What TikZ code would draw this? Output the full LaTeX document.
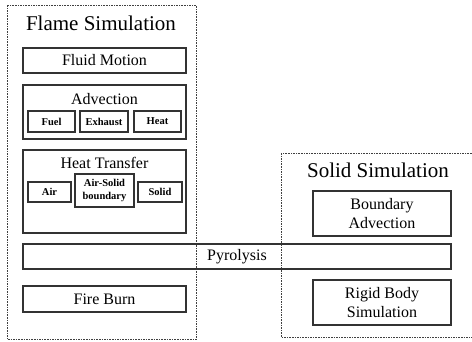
\documentclass[tikz,border=0pt]{standalone}
\usepackage{fontspec}
\setmainfont{Liberation Serif}
\begin{document}
\begin{tikzpicture}[x=1pt,y=-1pt,
  box/.style={draw=black!80,line width=1.1pt,inner sep=0pt,align=center},
  grp/.style={draw=black!75,line width=0.8pt,dash pattern=on 1.6pt off 1pt},
  ttl/.style={font=\fontsize{21}{24}\selectfont,anchor=base,inner sep=0pt},
  lbl/.style={font=\fontsize{16}{19}\selectfont},
  sub/.style={font=\bfseries\fontsize{10.5}{12.5}\selectfont},
]
\useasboundingbox (0,0) rectangle (472,341);
% group frames
\draw[grp] (7,5) rectangle (196,339.5);
\draw[grp] (281,153) rectangle (490,337);
\node[ttl] (flame) at (101,30) {Flame Simulation};
\node[ttl] (solidsim) at (378,177) {Solid Simulation};
% flame boxes
\node[box,lbl,minimum width=163pt,minimum height=25pt] (fluid) at (104.5,60.5) {Fluid Motion};
\node[box,minimum width=163pt,minimum height=54pt] (adv) at (104.5,112) {};
\node[lbl,anchor=base,inner sep=0pt] (advt) at (104.5,104) {Advection};
\node[box,sub,minimum width=47pt,minimum height=21pt] (fuel) at (51.5,121.5) {Fuel};
\node[box,sub,minimum width=48pt,minimum height=21pt] (exh) at (104,121.5) {Exhaust};
\node[box,sub,minimum width=47pt,minimum height=21pt] (heat) at (157.5,121.5) {Heat};
\node[box,minimum width=163pt,minimum height=83pt] (ht) at (104.5,191.5) {};
\node[lbl,anchor=base,inner sep=0pt] (htt) at (104.5,168) {Heat Transfer};
\node[box,sub,minimum width=43pt,minimum height=20pt] (air) at (49.5,192) {Air};
\node[box,sub,minimum width=59pt,minimum height=33pt,font=\bfseries\fontsize{10.5}{12.5}\selectfont] (airsolid) at (104.5,190.5) {Air-Solid\\boundary};
\node[box,sub,minimum width=44pt,minimum height=20pt] (solid) at (160,192) {Solid};
\node[box,lbl,minimum width=428pt,minimum height=25pt] (pyro) at (237,256.5) {Pyrolysis};
\node[box,lbl,minimum width=163pt,minimum height=26pt] (fire) at (104.5,299) {Fire Burn};
% solid boxes
\node[box,lbl,minimum width=138pt,minimum height=45pt] (badv) at (382,213.5) {Boundary\\Advection};
\node[box,lbl,minimum width=138pt,minimum height=45pt] (rigid) at (382,302.5) {Rigid Body\\Simulation};
\end{tikzpicture}
\end{document}
